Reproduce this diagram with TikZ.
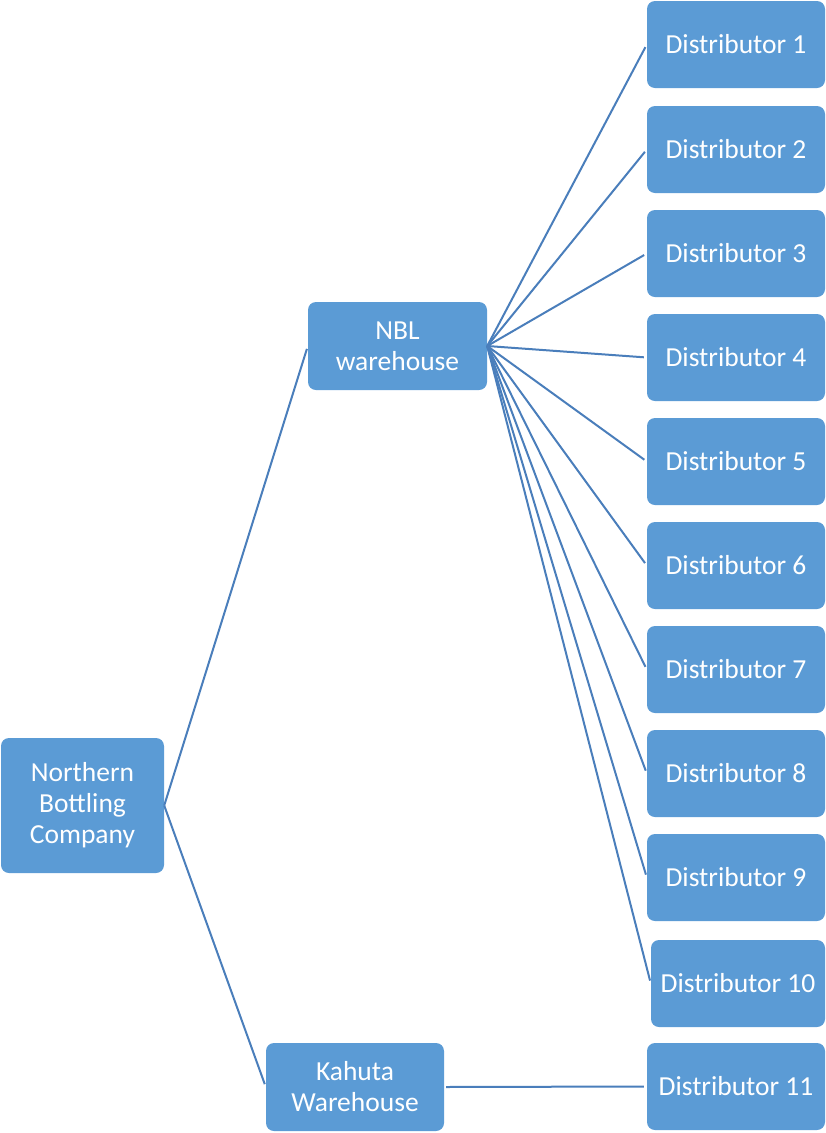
\documentclass[tikz,border=0pt]{standalone}
\usepackage{fontspec}
\setmainfont{Carlito}
\definecolor{boxblue}{HTML}{5B9BD5}
\definecolor{lineblue}{HTML}{4A7EBB}
\begin{document}
\begin{tikzpicture}[x=1pt,y=-1pt,
  box/.style={fill=boxblue, rounded corners=8pt, text=white, align=center,
    font=\fontsize{27.5}{31}\selectfont, inner sep=0pt},
  dist/.style={box, minimum width=178pt, minimum height=87pt},
  link/.style={draw=lineblue, line width=2pt, shorten >=3pt}]
\useasboundingbox (0,0) rectangle (825,1133);
\node[box, minimum width=163pt, minimum height=135pt] (nbc) at (82.5,805.5) {Northern\\Bottling\\Company};
\node[box, minimum width=179pt, minimum height=88pt] (nbl) at (397.5,346) {NBL\\warehouse};
\node[box, minimum width=178pt, minimum height=88pt] (kah) at (355,1087) {Kahuta\\Warehouse};
\node[dist] (d1) at (736,44.5) {Distributor 1};
\node[dist] (d2) at (736,149.5) {Distributor 2};
\node[dist] (d3) at (736,253.5) {Distributor 3};
\node[dist] (d4) at (736,357.5) {Distributor 4};
\node[dist] (d5) at (736,461.5) {Distributor 5};
\node[dist] (d6) at (736,565.5) {Distributor 6};
\node[dist] (d7) at (736,669.5) {Distributor 7};
\node[dist] (d8) at (736,773.5) {Distributor 8};
\node[dist] (d9) at (736,877.5) {Distributor 9};
\node[dist, minimum width=174pt] (d10) at (738,983.5) {Distributor 10};
\node[dist] (d11) at (736,1086.5) {Distributor 11};
\draw[link] (nbc.east) -- (nbl.west);
\draw[link] (nbc.east) -- (kah.west);
\foreach \i in {1,...,10} {\draw[link] (nbl.east) -- (d\i.west);}
\draw[link, shorten <=2pt] (kah.east) -- (d11.west);
\end{tikzpicture}
\end{document}
